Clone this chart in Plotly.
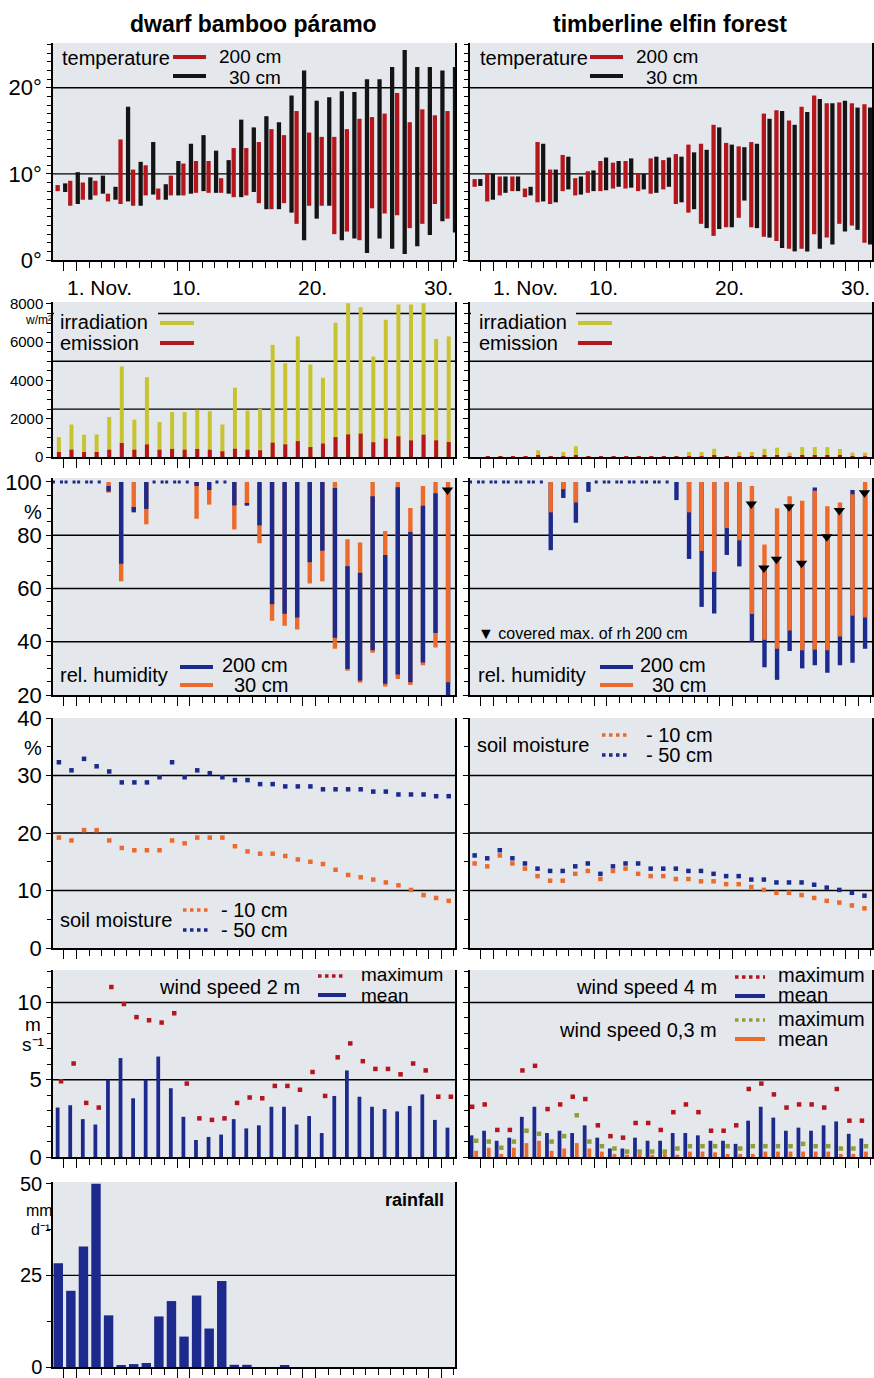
import plotly.graph_objects as go

W, H = 874, 1378
FONT = "Liberation Sans, Arial, sans-serif"

# ---------------- data ----------------
DAYS = list(range(32))          # index 0 = 31 Oct, 1 = 1 Nov ... 31 = 30 Nov
X_LABELS = ["1. Nov.", "10.", "20.", "30."]
X_LABEL_DAYS = [1, 10, 20, 30]

# temperature, dwarf bamboo paramo (deg C)
tL200_min = [8.0, 6.3, 7.0, 7.5, 6.8, 6.5, 6.3, 7.5, 7.0, 7.5, 7.5, 7.8, 7.8, 7.8, 7.3, 7.5,
             6.6, 5.9, 6.6, 4.2, 6.3, 6.3, 3.0, 3.3, 2.3, 6.0, 5.4, 5.2, 3.7, 4.2, 6.5, 4.8]
tL200_max = [8.7, 9.2, 9.0, 9.2, 7.7, 14.0, 10.5, 11.0, 8.3, 9.8, 11.2, 11.5, 11.5, 9.5, 13.0, 13.0,
             13.7, 15.2, 14.5, 17.3, 14.8, 14.3, 14.3, 15.2, 16.4, 16.6, 17.0, 19.4, 16.0, 17.5, 16.8, 17.3]
tL30_min = [7.9, 6.5, 7.0, 7.7, 7.0, 6.8, 6.3, 7.6, 7.0, 7.5, 7.7, 8.0, 7.8, 7.7, 7.3, 7.9,
            5.9, 5.9, 5.5, 2.3, 4.8, 6.3, 2.3, 2.5, 0.8, 2.5, 1.3, 0.7, 1.6, 2.9, 4.5, 3.2]
tL30_max = [8.9, 10.2, 9.6, 9.8, 8.5, 17.8, 11.4, 13.7, 8.8, 11.5, 13.5, 14.5, 12.7, 11.6, 16.3, 15.4,
            16.7, 16.0, 19.1, 22.0, 18.5, 18.9, 19.6, 19.5, 21.0, 21.0, 22.4, 24.4, 22.4, 22.4, 22.0, 22.4]
# temperature, timberline elfin forest
tR200_min = [8.5, 6.8, 7.5, 8.0, 7.3, 6.7, 6.5, 8.0, 7.5, 7.8, 8.0, 8.3, 8.3, 8.0, 7.7, 8.2,
             6.5, 5.5, 4.2, 2.8, 3.8, 4.9, 3.8, 2.7, 2.2, 1.3, 1.3, 3.0, 2.6, 4.2, 4.0, 2.0]
tR200_max = [9.4, 10.0, 9.7, 9.7, 8.3, 13.7, 10.5, 12.2, 9.5, 10.3, 11.5, 11.3, 11.5, 10.0, 11.8, 11.6,
             12.3, 13.4, 13.5, 15.7, 13.6, 13.2, 13.7, 17.0, 17.4, 16.2, 17.8, 19.1, 18.2, 18.3, 18.2, 18.1]
tR30_min = [8.6, 7.0, 7.8, 8.0, 7.5, 6.8, 6.7, 8.2, 7.6, 8.0, 8.1, 8.5, 8.4, 8.2, 7.8, 8.5,
            6.7, 5.9, 3.7, 3.6, 3.8, 6.9, 3.7, 2.6, 1.4, 1.0, 1.0, 1.3, 1.8, 3.3, 3.5, 1.8]
tR30_max = [9.4, 10.0, 9.7, 9.7, 8.5, 13.5, 10.5, 12.0, 9.7, 10.4, 11.9, 11.5, 11.8, 10.0, 12.0, 11.9,
            12.0, 12.5, 12.8, 15.4, 13.4, 13.1, 13.5, 16.4, 17.3, 15.7, 17.2, 18.7, 18.2, 18.5, 17.7, 17.7]

# radiation (W/m2 daily sums)
irrL = [1040, 1700, 1165, 1180, 2090, 4730, 1950, 4170, 1830, 2350, 2350, 2470, 2400, 1700, 3620, 2430,
        2520, 5860, 4900, 6300, 4830, 4140, 7010, 8030, 7830, 5250, 7170, 7970, 7970, 8030, 6170, 6300]
emiL = [260, 380, 260, 260, 380, 730, 380, 660, 380, 420, 380, 420, 380, 300, 430, 380,
        350, 750, 660, 830, 520, 700, 1040, 1180, 1220, 770, 960, 1080, 870, 1165, 870, 780]
irrR = [None, 30, 30, 30, 30, 350, 30, 260, 560, 30, 30, 30, 30, 30, 30, 30,
        30, 260, 260, 430, 30, 260, 260, 430, 490, 230, 520, 520, 520, 420, 230, 230]
emiR = [None, 10, 10, 10, 10, 60, 10, 50, 70, 10, 10, 10, 10, 10, 10, 10,
        10, 50, 50, 60, 10, 50, 50, 60, 60, 50, 60, 60, 60, 60, 50, 50]

# relative humidity (%): None = no bar
N = None
hL200_min = [N, N, N, N, 96.4, 69.3, 88.6, 89.9, N, N, N, 98.5, 97.0, N, 91.2, 91.1,
             83.7, 54.1, 50.5, 49.1, 69.9, 74.2, 41.5, 29.8, 25.4, 36.8, 24.2, 27.7, 24.8, 32.2, 43.3, 20.0]
hL200_max = [N, N, N, N, 98.5, 100, 90.6, 100, N, N, N, 100, 100, N, 100, 92.1,
             100, 100, 100, 100, 100, 100, 97.7, 68.4, 65.9, 94.6, 72.6, 98.0, 81.2, 91.1, 95.8, 97.0]
hL30_min = [N, N, N, N, 96.0, 62.7, 89.5, 84.1, N, N, N, 86.2, 91.5, N, 82.2, 91.5,
            77.0, 47.9, 46.0, 44.6, 61.9, 62.7, 37.4, 29.1, 24.6, 35.9, 23.2, 26.0, 23.8, 31.2, 37.8, 24.8]
hL30_max = [N, N, N, N, 100, 100, 100, 100, N, N, N, 100, 100, N, 100, 100,
            100, 100, 100, 100, 100, 100, 100, 78.5, 77.3, 100, 81.6, 100, 90.2, 98.5, 100, 100]
hL_saturated = [0, 1, 2, 3, 8, 9, 10, 13]
hL_covered = [31]

hR200_min = [N, N, N, N, N, N, 74.4, 94.0, 84.7, 96.3, N, N, N, N, N, N,
             93.2, 71.1, 53.1, 50.6, 72.6, 68.3, 39.9, 30.4, 25.7, 36.5, 30.0, 31.2, 28.4, 31.2, 32.1, 37.4]
hR200_max = [N, N, N, N, N, N, 100, 100, 100, 100, N, N, N, N, N, N,
             100, 100, 100, 100, 100, 100, 91.7, 67.7, 71.0, 90.7, 69.5, 97.9, 79.4, 89.3, 97.0, 96.0]
hR30_min = [N, N, N, N, N, N, 88.6, 97.3, 92.3, N, N, N, N, N, N, N,
            N, 88.6, 74.1, 66.2, 82.7, 78.1, 50.4, 40.7, 37.4, 44.2, 36.8, 37.0, 36.8, 42.0, 49.8, 49.1]
hR30_max = [N, N, N, N, N, N, 100, 100, 100, N, N, N, N, N, N, N,
            N, 100, 100, 100, 100, 100, 98.5, 76.5, 90.1, 94.6, 93.0, 96.7, 90.9, 92.3, 95.4, 100]
hR_saturated = [0, 1, 2, 3, 4, 5, 10, 11, 12, 13, 14, 15]
hR_covered = [22, 23, 24, 25, 26, 28, 29, 31]

# soil moisture (%)
sL10 = [19.2, 18.7, 20.5, 20.5, 18.7, 17.4, 17.0, 17.0, 17.0, 18.7, 18.2, 19.2, 19.2, 19.2, 17.7, 16.8,
        16.4, 16.4, 16.0, 15.4, 15.0, 14.6, 13.6, 12.7, 12.3, 11.9, 11.4, 10.9, 10.1, 9.2, 8.7, 8.2]
sL50 = [32.3, 30.9, 32.9, 31.6, 30.7, 28.8, 28.8, 28.8, 29.7, 32.3, 29.7, 30.9, 30.4, 29.7, 29.2, 29.2,
        28.5, 28.5, 28.1, 28.1, 28.1, 27.6, 27.6, 27.6, 27.6, 27.2, 27.2, 26.7, 26.7, 26.7, 26.4, 26.4]
sR10 = [14.7, 14.2, 16.1, 14.7, 13.8, 12.5, 11.7, 11.7, 12.9, 13.4, 12.0, 13.4, 13.8, 12.9, 12.5, 12.5,
        12.0, 12.0, 11.6, 11.6, 11.1, 11.1, 10.6, 10.1, 9.6, 9.6, 9.2, 8.7, 8.2, 7.9, 7.4, 6.9]
sR50 = [16.1, 15.6, 17.0, 15.6, 14.7, 13.8, 13.4, 13.4, 14.2, 14.7, 12.9, 14.2, 14.7, 14.7, 13.8, 13.8,
        13.8, 13.4, 13.4, 12.9, 12.5, 12.5, 11.9, 11.9, 11.4, 11.4, 11.4, 11.0, 10.5, 10.1, 9.6, 9.1]

# wind speed (m/s)
wL2_mean = [3.2, 3.35, 2.45, 2.1, 5.0, 6.4, 3.8, 5.0, 6.5, 4.45, 2.6, 1.1, 1.3, 1.45, 2.45, 1.85,
            2.05, 3.25, 3.25, 2.1, 2.65, 1.55, 3.95, 5.6, 3.9, 3.25, 3.1, 2.95, 3.3, 4.05, 2.4, 1.9]
wL2_max = [4.9, 6.05, 3.5, 3.2, 11.0, 9.9, 9.05, 8.85, 8.7, 9.3, 4.75, 2.5, 2.4, 2.5, 3.5, 3.85,
           3.8, 4.6, 4.6, 4.35, 5.5, 3.95, 6.45, 7.35, 6.2, 5.7, 5.7, 5.35, 6.05, 5.6, 3.9, 3.9]
wR4_mean = [1.4, 1.7, 1.05, 1.25, 2.6, 3.25, 1.55, 1.7, 1.55, 2.05, 1.25, 0.55, 0.55, 1.25, 1.05, 1.05,
            1.55, 1.55, 1.4, 1.05, 1.05, 0.85, 2.35, 3.25, 2.55, 1.7, 1.9, 1.7, 2.05, 2.3, 1.5, 1.2]
wR4_max = [3.25, 3.4, 1.75, 1.75, 5.6, 5.9, 3.1, 3.4, 3.9, 3.75, 2.05, 1.35, 1.25, 2.2, 2.2, 1.75,
           2.9, 3.4, 2.9, 1.7, 1.7, 2.05, 4.4, 4.75, 4.05, 3.2, 3.4, 3.4, 3.2, 4.4, 2.35, 2.35]
wR03_mean = [0.4, 0.6, 0.2, 0.6, 0.9, 1.05, 0.4, 0.55, 0.9, 0.55, 0.35, 0.2, 0.15, 0.2, 0.15, 0.2,
             0.15, 0.35, 0.35, 0.3, 0.2, 0.2, 0.2, 0.35, 0.35, 0.35, 0.35, 0.35, 0.35, 0.2, 0.2, 0.35]
wR03_max = [1.05, 1.0, 0.6, 1.0, 1.7, 1.5, 1.0, 1.35, 2.7, 1.0, 0.7, 0.55, 0.35, 0.35, 0.35, 0.35,
            0.55, 0.7, 0.7, 0.7, 0.7, 0.55, 0.7, 0.7, 0.7, 0.7, 0.85, 0.7, 0.7, 0.55, 0.55, 0.7]

# rainfall (mm/d)
rainL = [28.3, 20.8, 32.9, 50.0, 14.1, 0.4, 0.8, 1.1, 13.8, 18.0, 8.3, 19.5, 10.5, 23.5, 0.6, 0.6,
         0, 0, 0.4, 0, 0, 0, 0, 0, 0, 0, 0, 0, 0, 0, 0, 0]

# ---------------- styling ----------------
RED = "#b5161d"
BLACK = "#141414"
YELLOW = "#c8c431"
BLUE = "#1b2a8c"
ORANGE = "#eb6a2c"
GREEN = "#8f9e36"
BG = "#e4e7eb"

LX = [53 / W, 455 / W]
RX = [470 / W, 872 / W]
ROWS = {"temp": (43, 260), "irr": (302, 457), "hum": (478, 695),
        "soil": (718, 948), "wind": (970, 1157), "rain": (1182, 1367)}
PANELS = [("temp", "L"), ("temp", "R"), ("irr", "L"), ("irr", "R"), ("hum", "L"), ("hum", "R"),
          ("soil", "L"), ("soil", "R"), ("wind", "L"), ("wind", "R"), ("rain", "L")]
YCFG = {
    "temp": dict(range=[0, 25.2], tickvals=[0, 10, 20], ticktext=["0°", "10°", "20°"], minor=1, size=22, grid=[10, 20]),
    "irr": dict(range=[0, 8100], tickvals=[0, 2000, 4000, 6000, 8000], ticktext=None, minor=500, size=15, grid=[2500, 5000, 7500]),
    "hum": dict(range=[20, 101.5], tickvals=[20, 40, 60, 80, 100], ticktext=None, minor=5, size=22, grid=[40, 60, 80]),
    "soil": dict(range=[0, 40], tickvals=[0, 10, 20, 30, 40], ticktext=None, minor=5, size=22, grid=[10, 20, 30]),
    "wind": dict(range=[0, 12.1], tickvals=[0, 5, 10], ticktext=None, minor=1, size=22, grid=[5, 10]),
    "rain": dict(range=[0, 50.5], tickvals=[0, 25, 50], ticktext=None, minor=12.5, size=20, grid=[25]),
}
XRANGE = [-0.37, 31.6]

fig = go.Figure()
layout = dict(width=W, height=H, autosize=False,
              margin=dict(l=0, r=0, t=0, b=0, pad=0, autoexpand=False),
              paper_bgcolor="white", plot_bgcolor=BG, barmode="overlay",
              showlegend=False, font=dict(family=FONT, color="black"))
shapes, annotations = [], []
AX = {}
major_x = [v + 0.5 for v in (0, 1, 9, 10, 19, 20, 29, 30)]

for k, (row, side) in enumerate(PANELS, start=1):
    top, bot = ROWS[row]
    cfg = YCFG[row]
    sfx = "" if k == 1 else str(k)
    AX[(row, side)] = ("x" + sfx, "y" + sfx)
    layout["xaxis" + sfx] = dict(
        domain=LX if side == "L" else RX, anchor="y" + sfx, range=XRANGE,
        showgrid=False, zeroline=False, showline=True, linecolor="black", linewidth=1.5,
        ticks="outside", ticklen=9, tickwidth=1.3, tickcolor="black",
        tickmode="array", tickvals=major_x, showticklabels=False, automargin=False,
        minor=dict(ticks="outside", ticklen=6, tickwidth=1.2, tickcolor="black",
                   tickmode="linear", tick0=0.5, dtick=1, showgrid=False),
    )
    yax = dict(
        domain=[1 - bot / H, 1 - top / H], anchor="x" + sfx, range=cfg["range"],
        showgrid=False, zeroline=False, showline=True, linecolor="black", linewidth=1.5,
        mirror=True, ticks="outside", ticklen=5, tickwidth=1.3, tickcolor="black",
        tickmode="array", tickvals=cfg["tickvals"], automargin=False,
        tickfont=dict(family=FONT, size=cfg["size"], color="black"),
        showticklabels=(side == "L"),
        minor=dict(ticks="outside", ticklen=4, tickwidth=1, tickcolor="black",
                   tickmode="linear", tick0=0, dtick=cfg["minor"], showgrid=False),
    )
    if cfg["ticktext"]:
        yax["ticktext"] = cfg["ticktext"]
    layout["yaxis" + sfx] = yax
    for g in cfg["grid"]:
        shapes.append(dict(type="line", xref=f"x{sfx} domain", yref="y" + sfx, x0=0, x1=1, y0=g, y1=g,
                           line=dict(color="black", width=1.4), layer="below"))


def floating_bars(panel, lo, hi, offset, width, color, keep=None):
    xa, ya = AX[panel]
    xs, ys, bs = [], [], []
    for d, a, b in zip(DAYS, lo, hi):
        if a is None or b is None:
            continue
        if keep is not None and not keep(d):
            continue
        xs.append(d + offset)
        ys.append(b - a)
        bs.append(a)
    fig.add_trace(go.Bar(x=xs, y=ys, base=bs, width=width, marker=dict(color=color, line=dict(width=0)),
                         xaxis=xa, yaxis=ya, hoverinfo="skip"))


def bars(panel, vals, offset, width, color):
    xa, ya = AX[panel]
    xs = [d + offset for d, v in zip(DAYS, vals) if v is not None]
    ys = [v for v in vals if v is not None]
    fig.add_trace(go.Bar(x=xs, y=ys, width=width, marker=dict(color=color, line=dict(width=0)),
                         xaxis=xa, yaxis=ya, hoverinfo="skip"))


def dots(panel, vals, offset, color, size=4.5, symbol="square"):
    xa, ya = AX[panel]
    fig.add_trace(go.Scatter(x=[d + offset for d in DAYS], y=vals, mode="markers",
                             marker=dict(color=color, size=size, symbol=symbol, line=dict(width=0)),
                             xaxis=xa, yaxis=ya, hoverinfo="skip"))


def saturated(panel, days, value=100):
    xa, ya = AX[panel]
    xs, ys = [], []
    for d in days:
        xs += [d - 0.45, d + 0.45, None]
        ys += [value, value, None]
    fig.add_trace(go.Scatter(x=xs, y=ys, mode="lines",
                             line=dict(color=BLUE, width=3, dash="3px,5px"),
                             xaxis=xa, yaxis=ya, hoverinfo="skip"))


def covered_markers(panel, days, maxima):
    xa, ya = AX[panel]
    fig.add_trace(go.Scatter(x=days, y=[maxima[d] for d in days], mode="markers",
                             marker=dict(color="black", size=10, symbol="triangle-down"),
                             xaxis=xa, yaxis=ya, hoverinfo="skip"))


# temperature
floating_bars(("temp", "L"), tL200_min, tL200_max, 0.0, 0.34, RED)
floating_bars(("temp", "L"), tL30_min, tL30_max, 0.6, 0.34, BLACK)
floating_bars(("temp", "R"), tR200_min, tR200_max, 0.0, 0.34, RED)
floating_bars(("temp", "R"), tR30_min, tR30_max, 0.45, 0.34, BLACK)

# radiation
bars(("irr", "L"), irrL, 0.1, 0.32, YELLOW)
bars(("irr", "L"), emiL, 0.1, 0.32, RED)
bars(("irr", "R"), irrR, 0.05, 0.32, YELLOW)
bars(("irr", "R"), emiR, 0.05, 0.32, RED)

# humidity: left - 200 cm drawn over 30 cm (except covered days)
saturated(("hum", "L"), hL_saturated)
floating_bars(("hum", "L"), hL30_min, hL30_max, 0.05, 0.35, ORANGE, keep=lambda d: d not in hL_covered)
floating_bars(("hum", "L"), hL200_min, hL200_max, 0.05, 0.35, BLUE)
floating_bars(("hum", "L"), hL30_min, hL30_max, 0.05, 0.35, ORANGE, keep=lambda d: d in hL_covered)
covered_markers(("hum", "L"), hL_covered, hL200_max)
# humidity: right - 30 cm drawn over 200 cm
saturated(("hum", "R"), hR_saturated)
floating_bars(("hum", "R"), hR200_min, hR200_max, 0.05, 0.35, BLUE)
floating_bars(("hum", "R"), hR30_min, hR30_max, 0.05, 0.35, ORANGE)
covered_markers(("hum", "R"), hR_covered, hR200_max)

# soil moisture
dots(("soil", "L"), sL50, 0.1, BLUE)
dots(("soil", "L"), sL10, 0.1, ORANGE)
dots(("soil", "R"), sR50, 0.0, BLUE)
dots(("soil", "R"), sR10, 0.0, ORANGE)

# wind
bars(("wind", "L"), wL2_mean, 0.0, 0.3, BLUE)
dots(("wind", "L"), wL2_max, 0.27, RED, size=4.5)
bars(("wind", "R"), wR4_mean, -0.25, 0.3, BLUE)
bars(("wind", "R"), wR03_mean, 0.12, 0.3, ORANGE)
dots(("wind", "R"), wR4_max, -0.2, RED, size=4.5)
dots(("wind", "R"), wR03_max, 0.12, GREEN, size=4.5)

# rainfall
bars(("rain", "L"), rainL, 0.05, 0.75, BLUE)


# ---------------- texts & legends ----------------
def px(x):
    return x / W


def py(y):
    return 1 - y / H


def txt(x, y, s, size=20, xanchor="left", bg=None, yanchor="middle", weight="normal"):
    a = dict(x=px(x), y=py(y), xref="paper", yref="paper", text=s, showarrow=False,
             xanchor=xanchor, yanchor=yanchor,
             font=dict(family=FONT, size=size, color="black", weight=weight))
    if bg:
        a["bgcolor"] = bg
        a["borderpad"] = 0
    annotations.append(a)


def seg(x0, x1, y, color, width=4, dash=None):
    line = dict(color=color, width=width)
    if dash:
        line["dash"] = dash
    shapes.append(dict(type="line", xref="paper", yref="paper", x0=px(x0), x1=px(x1),
                       y0=py(y), y1=py(y), line=line, layer="above"))


# legend boxes of the radiation panels hide the upper grid line
for x0_, x1_ in ((54, 158), (471, 576)):
    shapes.append(dict(type="rect", xref="paper", yref="paper", x0=px(x0_), x1=px(x1_),
                       y0=py(352), y1=py(305), fillcolor=BG, line=dict(width=0), layer="above"))

# titles
txt(253, 24, "dwarf bamboo páramo", size=23, xanchor="center", weight="bold")
txt(670, 24, "timberline elfin forest", size=23, xanchor="center", weight="bold")

# x labels under temperature panels
for side, first_off in (("L", -0.4), ("R", 0.3)):
    xa, _ = AX[("temp", side)]
    for lab, d in zip(X_LABELS, X_LABEL_DAYS):
        annotations.append(dict(x=d + (first_off if d == 1 else 0.25), y=py(287), xref=xa, yref="paper",
                                text=lab, showarrow=False,
                                xanchor="left" if d == 1 else "center", yanchor="middle",
                                font=dict(family=FONT, size=21, color="black")))

# units
txt(38, 320, "w/m²", size=12, xanchor="center")
txt(33, 512, "%", size=20, xanchor="center")
txt(33, 748, "%", size=20, xanchor="center")
txt(33, 1024, "m", size=19, xanchor="center")
txt(33, 1044, "s⁻¹", size=19, xanchor="center")
txt(39, 1210, "mm", size=16, xanchor="center")
txt(40, 1229, "d⁻¹", size=16, xanchor="center")

# temperature legends
for x0, xr in ((60, 283), (478, 700)):
    txt(x0, 58, "temperature")
    seg(xr - 110, xr - 77, 57, RED, 4)
    seg(xr - 110, xr - 77, 76, BLACK, 4)
    txt(xr, 56, "200 cm", size=19, xanchor="right")
    txt(xr, 77, "30 cm", size=19, xanchor="right")

# radiation legends
for x0, lx in ((58, 160), (477, 578)):
    txt(x0, 322, "irradiation")
    txt(x0, 343, "emission")
    seg(lx, lx + 34, 323, YELLOW, 4)
    seg(lx, lx + 34, 343, RED, 4)

# humidity legends
for x0, lx, xr in ((58, 180, 290), (476, 600, 708)):
    txt(x0, 675, "rel. humidity")
    seg(lx, lx + 33, 667, BLUE, 4)
    seg(lx, lx + 33, 685, ORANGE, 4)
    txt(xr, 665, "200 cm", xanchor="right")
    txt(xr, 685, "30 cm", xanchor="right")
txt(476, 633, "▼ covered max. of rh 200 cm", size=16)

# soil legends
for x0, ytxt, lx, xr, y1, y2 in ((58, 920, 183, 290, 910, 930), (475, 745, 602, 715, 735, 755)):
    txt(x0, ytxt, "soil moisture")
    seg(lx, lx + 28, y1, ORANGE, 3.5, "dot")
    seg(lx, lx + 28, y2, BLUE, 3.5, "dot")
    txt(xr, y1, "- 10 cm", xanchor="right")
    txt(xr, y2, "- 50 cm", xanchor="right")

# wind legends
txt(157, 987, "wind speed 2 m")
seg(318, 346, 976, RED, 3.5, "dot")
seg(318, 346, 995, BLUE, 4)
txt(359, 974, "maximum", size=19)
txt(359, 995, "mean", size=19)

txt(719, 987, "wind speed 4 m", xanchor="right")
seg(735, 765, 977, RED, 3.5, "dot")
seg(735, 765, 996, BLUE, 4)
txt(776, 975, "maximum")
txt(776, 995, "mean")
txt(719, 1030, "wind speed 0,3 m", xanchor="right")
seg(735, 765, 1020, GREEN, 3.5, "dot")
seg(735, 765, 1039, ORANGE, 4)
txt(776, 1019, "maximum")
txt(776, 1039, "mean")

# rainfall label
txt(446, 1200, "rainfall", size=18, xanchor="right", weight="bold")

layout["shapes"] = shapes
layout["annotations"] = annotations
fig.update_layout(**layout)
fig.write_html(
    "out.html",
    config={"displayModeBar": False, "responsive": False},
    post_script=(
        "document.documentElement.style.margin='0';"
        "document.body.style.margin='0';document.body.style.padding='0';"
        "document.body.style.overflow='hidden';document.documentElement.style.overflow='hidden';"
        "var gd=document.getElementById('{plot_id}');"
        "gd.style.position='absolute';gd.style.left='0px';gd.style.top='0px';"
    ),
)
